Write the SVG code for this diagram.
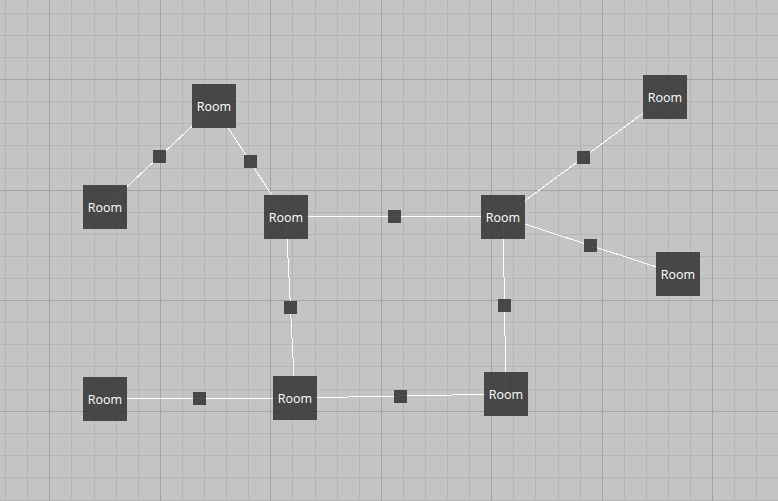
<svg xmlns="http://www.w3.org/2000/svg" width="778" height="501" viewBox="0 0 778 501">
<style>
.bg{fill:#c4c4c4}
.mn{stroke:#b5b5b5;stroke-width:1;shape-rendering:crispEdges}
.mj{stroke:#a2a2a2;stroke-width:1;shape-rendering:crispEdges}
.cn{stroke:#ffffff;stroke-width:1;fill:none;shape-rendering:crispEdges}
.room{fill:#3a3a3a;fill-opacity:0.9}
.door{fill:#3a3a3a;fill-opacity:0.9}
.lbl{font-family:"Open Sans","Noto Sans",sans-serif;font-size:12.5px;fill:#ffffff;text-anchor:middle}
</style>
<rect class="bg" x="0" y="0" width="778" height="501"/>
<g id="grid">
<g class="mn">
<path d="M5.5 0V501M27.5 0V501M71.5 0V501M94.5 0V501M116.5 0V501M138.5 0V501M182.5 0V501M204.5 0V501M226.5 0V501M248.5 0V501M292.5 0V501M315.5 0V501M337.5 0V501M359.5 0V501M403.5 0V501M425.5 0V501M447.5 0V501M469.5 0V501M513.5 0V501M535.5 0V501M558.5 0V501M580.5 0V501M624.5 0V501M646.5 0V501M668.5 0V501M690.5 0V501M734.5 0V501M756.5 0V501"/>
<path d="M0 13.5H778M0 35.5H778M0 57.5H778M0 101.5H778M0 123.5H778M0 145.5H778M0 168.5H778M0 212.5H778M0 234.5H778M0 256.5H778M0 278.5H778M0 322.5H778M0 344.5H778M0 366.5H778M0 389.5H778M0 433.5H778M0 455.5H778M0 477.5H778M0 500.5H778"/>
</g>
<g class="mj">
<path d="M49.5 0V501M160.5 0V501M270.5 0V501M381.5 0V501M491.5 0V501M602.5 0V501M712.5 0V501"/>
<path d="M0 79.5H778M0 190.5H778M0 300.5H778M0 411.5H778"/>
</g>
</g>
<g id="connectors" class="cn">
<line x1="214" y1="106" x2="105" y2="207"/>
<line x1="214" y1="106" x2="286" y2="217"/>
<line x1="286" y1="216.5" x2="503" y2="216.5"/>
<line x1="503" y1="217" x2="665" y2="97"/>
<line x1="503" y1="217" x2="678" y2="274"/>
<line x1="286" y1="217" x2="295" y2="398"/>
<line x1="503" y1="217" x2="506" y2="394"/>
<line x1="105" y1="398.5" x2="295" y2="398"/>
<line x1="295" y1="398" x2="506" y2="394"/>
</g>
<g id="doors">
<rect id="door-ab" class="door" x="153" y="150" width="13" height="13"/>
<rect id="door-ac" class="door" x="244" y="155" width="13" height="13"/>
<rect id="door-cd" class="door" x="388" y="210" width="13" height="13"/>
<rect id="door-de" class="door" x="577" y="151" width="13" height="13"/>
<rect id="door-df" class="door" x="584" y="239" width="13" height="13"/>
<rect id="door-ch" class="door" x="284" y="301" width="13" height="13"/>
<rect id="door-di" class="door" x="498" y="299" width="13" height="13"/>
<rect id="door-gh" class="door" x="193" y="392" width="13" height="13"/>
<rect id="door-hi" class="door" x="394" y="390" width="13" height="13"/>
</g>
<g id="room-a"><rect class="room" x="192" y="84" width="44" height="44"/><text class="lbl" x="214" y="111">Room</text></g>
<g id="room-b"><rect class="room" x="83" y="185" width="44" height="44"/><text class="lbl" x="105" y="212">Room</text></g>
<g id="room-c"><rect class="room" x="264" y="195" width="44" height="44"/><text class="lbl" x="286" y="222">Room</text></g>
<g id="room-d"><rect class="room" x="481" y="195" width="44" height="44"/><text class="lbl" x="503" y="222">Room</text></g>
<g id="room-e"><rect class="room" x="643" y="75" width="44" height="44"/><text class="lbl" x="665" y="102">Room</text></g>
<g id="room-f"><rect class="room" x="656" y="252" width="44" height="44"/><text class="lbl" x="678" y="279">Room</text></g>
<g id="room-g"><rect class="room" x="83" y="377" width="44" height="44"/><text class="lbl" x="105" y="404">Room</text></g>
<g id="room-h"><rect class="room" x="273" y="376" width="44" height="44"/><text class="lbl" x="295" y="403">Room</text></g>
<g id="room-i"><rect class="room" x="484" y="372" width="44" height="44"/><text class="lbl" x="506" y="399">Room</text></g>
</svg>
